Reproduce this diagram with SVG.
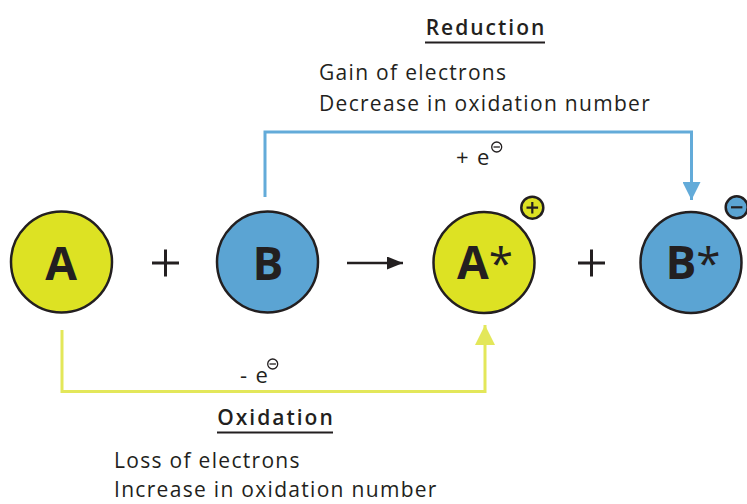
<svg xmlns="http://www.w3.org/2000/svg" width="747" height="504" viewBox="0 0 747 504">
<style>
.t{font-family:"Open Sans","Noto Sans",sans-serif;fill:#231f20}
.lbl{font-size:21px;letter-spacing:1.3px}
.hd{font-size:21px;font-weight:600;letter-spacing:2px}
.big{font-size:46px;font-weight:700;text-anchor:middle}
.ast{font-weight:400;font-size:44px}
.y{fill:#dde223;stroke:#231f20;stroke-width:2.5}
.b{fill:#5ba4d3;stroke:#231f20;stroke-width:2.5}
.op{stroke:#231f20;stroke-width:3;fill:none}
</style>
<defs>
<marker id="ab" markerWidth="6" markerHeight="6" refX="6" refY="3" orient="auto" markerUnits="strokeWidth"><path d="M0,0L6,3L0,6z" fill="#63abd9"/></marker>
<marker id="ay" markerWidth="6.7" markerHeight="6.7" refX="6.7" refY="3.35" orient="auto" markerUnits="strokeWidth"><path d="M0,0L6.7,3.35L0,6.7z" fill="#e3e75a"/></marker>
<marker id="ak" markerWidth="6.4" markerHeight="5.2" refX="6.4" refY="2.6" orient="auto" markerUnits="strokeWidth"><path d="M0,0L6.4,2.6L0,5.2z" fill="#231f20"/></marker>
</defs>
<g id="connectors">
<path d="M265,197V132H691.5V200" fill="none" stroke="#63abd9" stroke-width="3" marker-end="url(#ab)"/>
<path d="M62,330V391.5H485V325" fill="none" stroke="#e3e75a" stroke-width="3" marker-end="url(#ay)"/>
<line x1="347" y1="263" x2="403" y2="263" stroke="#231f20" stroke-width="2.5" marker-end="url(#ak)"/>
</g>
<g id="nodeA"><circle class="y" cx="61.5" cy="262" r="50.5"/><text class="t big" x="61" y="280">A</text></g>
<g id="plus1"><path class="op" d="M152,263H179M165.5,249.5V276.5"/></g>
<g id="nodeB"><circle class="b" cx="267.5" cy="262" r="50.5"/><text class="t big" x="268" y="280">B</text></g>
<g id="nodeAstar"><circle class="y" cx="484" cy="262.5" r="50.5"/><text class="t big" x="485" y="279">A<tspan class="ast">*</tspan></text>
<circle class="y" cx="532.3" cy="207.7" r="11"/><path d="M526.5,207.7H538.1M532.3,201.9V213.5" stroke="#231f20" stroke-width="2.2"/></g>
<g id="plus2"><path class="op" d="M578,263H605M591.5,249.5V276.5"/></g>
<g id="nodeBstar"><circle class="b" cx="691" cy="262.5" r="50.5"/><text class="t big" x="693" y="279">B<tspan class="ast">*</tspan></text>
<circle class="b" cx="736.7" cy="207.3" r="11"/><path d="M731,207.3H742.4" stroke="#231f20" stroke-width="2.2"/></g>
<g id="reduction">
<text class="t hd" x="486" y="35" text-anchor="middle">Reduction</text>
<line x1="425" y1="42.5" x2="545" y2="42.5" stroke="#231f20" stroke-width="2"/>
<text class="t lbl" x="319" y="80">Gain of electrons</text>
<text class="t lbl" x="319" y="111">Decrease in oxidation number</text>
<text class="t lbl" x="456" y="165" style="font-size:22px">+ e</text>
<circle cx="496.7" cy="147" r="5" fill="none" stroke="#231f20" stroke-width="1.3"/><line x1="493.5" y1="147" x2="499.9" y2="147" stroke="#231f20" stroke-width="1.3"/>
</g>
<g id="oxidation">
<text class="t lbl" x="240" y="383" style="font-size:22px">- e</text>
<circle cx="272.7" cy="364" r="5" fill="none" stroke="#231f20" stroke-width="1.3"/><line x1="269.5" y1="364" x2="275.9" y2="364" stroke="#231f20" stroke-width="1.3"/>
<text class="t hd" x="276" y="425" text-anchor="middle">Oxidation</text>
<line x1="217" y1="432.5" x2="333" y2="432.5" stroke="#231f20" stroke-width="2"/>
<text class="t lbl" x="114" y="468">Loss of electrons</text>
<text class="t lbl" x="114" y="497">Increase in oxidation number</text>
</g>
</svg>
